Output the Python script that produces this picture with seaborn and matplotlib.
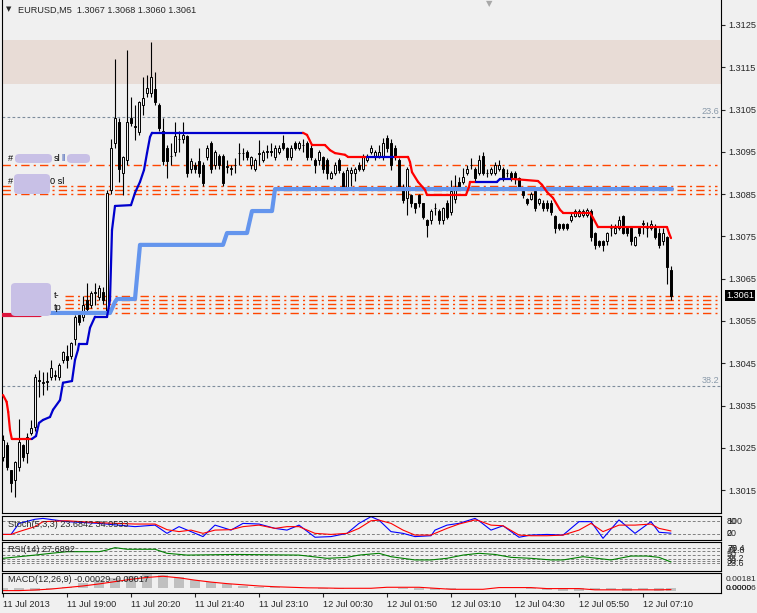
import numpy as np
import pandas as pd
import matplotlib
matplotlib.use("Agg")
import matplotlib.pyplot as plt
from matplotlib.patches import FancyBboxPatch
import seaborn as sns

# EURUSD M5 candles, values in pips above 1.3000 (bar 0 = first visible bar)
bar_open = [22.9, 25.7, 19.8, 17.4, 20.5, 25.7, 23.8, 28.5, 30.0, 41.0,
            40.3, 40.6, 41.8, 42.0, 41.8, 45.8, 46.8, 46.8, 50.8, 56.4,
            56.0, 60.0, 58.8, 61.6, 60.7, 61.9, 56.9, 86.0, 97.0, 102.0,
            90.0, 93.1, 103.0, 101.0, 99.7, 106.1, 108.9, 108.9, 109.9, 106.1,
            99.9, 95.9, 94.0, 95.0, 98.0, 98.0, 98.8, 91.0, 91.9, 92.8,
            91.9, 93.8, 97.1, 91.9, 94.0, 94.0, 91.5, 91.0, 91.9, 94.7,
            94.8, 95.0, 91.9, 91.0, 94.6, 93.1, 95.0, 95.1, 93.8, 95.0,
            97.1, 95.9, 93.8, 97.1, 95.9, 96.6, 97.1, 95.9, 93.1, 93.1,
            93.8, 93.1, 88.8, 90.0, 93.1, 90.0, 86.7, 90.0, 90.0, 91.9,
            91.0, 93.1, 95.0, 93.8, 93.8, 93.8, 98.3, 97.1, 95.9, 93.1,
            86.7, 84.0, 84.7, 82.8, 84.7, 82.8, 78.8, 78.8, 81.7, 81.0,
            78.8, 83.0, 80.8, 83.8, 87.9, 87.9, 90.0, 91.9, 91.0, 90.0,
            94.0, 90.0, 90.0, 90.0, 91.0, 91.0, 90.0, 90.0, 90.0, 88.8,
            85.7, 83.9, 83.9, 85.7, 82.9, 83.0, 83.0, 83.0, 79.8, 77.9,
            77.9, 77.9, 78.9, 79.8, 79.8, 80.0, 80.0, 81.0, 75.8, 73.9,
            73.9, 73.9, 77.0, 75.8, 77.0, 79.8, 77.0, 77.0, 73.0, 77.0,
            78.0, 77.0, 77.0, 77.0, 75.8, 73.9, 74.8, 67.0]
bar_high = [28.0, 26.5, 19.8, 22.0, 31.9, 26.0, 28.5, 31.6, 42.5, 43.5,
            43.0, 43.0, 45.8, 43.5, 45.0, 48.0, 49.4, 50.0, 56.5, 57.0,
            61.0, 64.0, 62.0, 64.0, 63.5, 63.0, 86.0, 98.1, 117.0, 103.0,
            94.0, 119.1, 108.0, 106.0, 107.0, 112.7, 113.2, 121.0, 113.9, 106.5,
            103.0, 96.5, 97.1, 102.0, 100.0, 102.0, 99.0, 93.5, 92.5, 95.9,
            92.5, 96.5, 97.5, 95.5, 94.5, 94.5, 93.0, 92.0, 93.5, 97.1,
            96.0, 95.5, 94.0, 93.5, 97.8, 95.5, 96.5, 97.0, 96.5, 96.5,
            99.0, 96.2, 96.5, 97.5, 97.5, 98.0, 97.5, 96.5, 93.5, 95.5,
            94.0, 93.5, 90.5, 92.5, 93.5, 90.5, 91.5, 91.5, 91.5, 92.5,
            94.5, 94.5, 96.5, 95.5, 96.5, 98.3, 99.0, 98.0, 96.5, 93.5,
            87.5, 91.5, 85.0, 83.0, 85.0, 83.0, 79.0, 81.5, 83.0, 81.5,
            82.0, 83.5, 88.3, 89.5, 89.0, 91.2, 92.0, 93.6, 91.5, 94.3,
            95.0, 91.0, 91.5, 92.5, 93.1, 91.5, 91.0, 90.5, 90.5, 89.0,
            86.0, 84.2, 85.5, 86.0, 84.2, 83.5, 83.5, 83.5, 80.0, 78.2,
            78.2, 78.2, 80.5, 81.5, 81.5, 81.5, 81.8, 81.5, 76.0, 74.2,
            74.2, 76.0, 78.0, 78.0, 79.8, 80.0, 77.5, 77.5, 75.2, 77.5,
            78.8, 78.5, 78.8, 78.0, 77.0, 77.0, 75.0, 68.0]
bar_low = [22.0, 19.8, 14.6, 13.4, 19.5, 22.0, 21.5, 28.0, 29.0, 37.0,
           37.5, 38.7, 41.0, 41.0, 41.0, 45.0, 43.9, 46.0, 49.4, 54.0,
           55.0, 57.0, 58.0, 58.8, 60.0, 59.0, 56.0, 85.0, 95.9, 87.9,
           84.8, 92.0, 101.0, 97.8, 99.0, 103.7, 108.0, 108.0, 106.0, 100.0,
           91.9, 88.8, 91.9, 94.0, 95.0, 97.0, 89.0, 90.0, 90.0, 89.0,
           87.0, 93.0, 90.0, 91.0, 91.0, 87.0, 90.0, 89.5, 90.0, 91.9,
           93.0, 93.0, 91.0, 90.5, 92.0, 92.5, 93.5, 94.0, 93.0, 94.5,
           95.5, 93.0, 93.0, 95.5, 95.5, 95.0, 93.0, 93.0, 90.0, 92.0,
           90.0, 88.5, 88.5, 89.5, 90.0, 86.0, 86.0, 87.0, 88.0, 90.5,
           90.5, 92.5, 94.5, 93.0, 93.5, 93.0, 95.0, 90.7, 93.0, 86.0,
           83.0, 80.0, 82.0, 80.5, 82.0, 79.0, 74.8, 78.0, 80.0, 78.0,
           78.0, 79.0, 80.0, 83.0, 86.0, 87.5, 89.5, 91.0, 88.0, 89.5,
           89.5, 89.0, 89.5, 89.5, 90.5, 88.0, 89.0, 88.0, 87.5, 86.0,
           84.0, 82.5, 83.5, 81.0, 82.5, 81.0, 81.0, 80.0, 75.8, 76.5,
           76.5, 76.5, 78.5, 79.5, 79.5, 79.5, 79.5, 74.0, 72.0, 72.5,
           71.6, 73.0, 75.0, 75.5, 76.5, 75.5, 75.0, 73.0, 72.8, 75.0,
           75.5, 74.8, 76.5, 74.5, 72.2, 73.0, 63.7, 60.0]
bar_close = [26.9, 20.5, 16.7, 21.7, 26.4, 22.9, 27.6, 29.7, 41.8, 40.8,
             40.6, 40.9, 43.9, 42.2, 44.6, 47.7, 45.8, 49.8, 56.0, 54.8,
             58.8, 57.9, 61.6, 61.8, 62.8, 60.0, 85.3, 95.9, 103.0, 91.0,
             93.8, 102.1, 101.8, 100.9, 106.8, 107.7, 110.1, 112.7, 106.8, 100.6,
             92.8, 92.8, 94.1, 98.8, 98.1, 99.0, 90.0, 92.8, 91.0, 90.0,
             87.6, 95.9, 91.0, 95.0, 91.9, 87.6, 91.6, 91.2, 92.0, 94.8,
             94.7, 93.8, 93.8, 93.1, 94.8, 95.0, 95.1, 95.0, 95.9, 95.9,
             95.9, 93.8, 95.9, 95.9, 97.1, 96.7, 93.8, 93.8, 91.9, 95.0,
             91.0, 90.0, 90.0, 91.9, 90.7, 86.7, 90.7, 90.7, 91.0, 91.0,
             93.8, 93.8, 95.9, 95.0, 95.0, 97.1, 95.9, 91.9, 93.8, 86.7,
             83.6, 91.0, 82.8, 81.6, 82.8, 79.5, 77.6, 81.0, 81.8, 78.8,
             81.7, 79.6, 85.7, 86.7, 86.7, 89.1, 91.0, 92.0, 88.8, 93.1,
             90.0, 90.1, 91.0, 91.9, 91.9, 88.8, 90.1, 88.8, 88.8, 86.7,
             84.8, 82.9, 85.1, 81.7, 83.9, 81.7, 81.7, 80.8, 77.0, 77.0,
             77.0, 77.0, 79.8, 81.0, 81.0, 81.0, 81.3, 74.9, 73.0, 73.0,
             73.0, 75.8, 77.1, 77.0, 78.8, 75.8, 75.8, 73.9, 74.8, 75.8,
             78.1, 77.1, 78.0, 74.8, 73.0, 75.8, 67.7, 61.0]

# trend line (bar position, pips, colour of the segment that starts there)
trail_i = [0, 0.9, 1.3, 1.75, 2.2, 7.2, 8.25, 9, 10, 11.75, 12.5, 14.25, 15, 17.25,
           18, 18.75, 19, 21, 21.75, 23, 26, 26.75, 27.25, 28, 32, 33, 34.25, 35.25,
           36, 36.75, 37.25, 75, 76, 77.25, 80.5, 81.75, 83, 85.5, 86.25, 91, 98,
           101.25, 101.75, 102.25, 103.75, 105.5, 106, 115.75, 116.5, 116.75, 118.25,
           123.5, 124.25, 127.25, 133.75, 134.75, 136, 137.5, 139.25, 140, 146.75,
           147.5, 148.75, 166, 166.5, 167]
trail_p = [37.5, 35.9, 33.5, 29.2, 27.1, 27.1, 27.8, 30.9, 31.6, 32.3, 34.0, 36.3, 40.4, 40.8,
           45.8, 48.2, 49.6, 49.6, 53.4, 56.0, 56.0, 60.0, 76.5, 82.2, 82.4, 85.3, 87.9, 90.7,
           94.7, 98.5, 99.5, 99.5, 99.0, 96.6, 96.6, 95.4, 94.7, 94.3, 93.8, 93.8, 93.8,
           93.8, 92.6, 90.2, 87.9, 86.0, 84.8, 84.8, 86.7, 87.9, 87.9,
           87.9, 88.6, 88.6, 88.1, 87.2, 85.5, 84.1, 81.3, 80.6, 80.6,
           79.4, 77.2, 77.2, 75.8, 74.6]
trail_dir = list("rrrrr" + "b" * 26 + "r" * 8 + "b" + "r" * 10 + "bbb" + "r" * 12 + "-")

# stepped support line
support_i = [9.25, 26.75, 28, 28.5, 33, 34.25, 55, 56, 61, 62.25, 67.25, 68, 167.25]
support_p = [56.9, 56.9, 59.5, 60.2, 60.2, 73.0, 73.0, 75.8, 75.8, 81.0, 81.0, 86.2, 86.2]
start_i = [-0.25, 9.25]
start_p = [56.4, 56.4]

# horizontal objects (pips)
order_levels = [91.9, 86.9, 86.0, 85.0, 60.9, 60.0, 59.0, 58.1, 56.9]
fib_levels = [103.2, 39.65]
fib_names = ["23.6", "38.2"]
zone_low, zone_high = 111.0, 121.4
price_ticks = [15, 25, 35, 45, 55, 65, 75, 85, 95, 105, 115, 125]

# indicators, read at sample bars
stoch_i = [0, 2, 4, 8, 10, 16, 24, 33, 38, 41, 44, 47, 50, 53, 57, 60, 64, 68, 71, 74,
           78, 82, 86, 89, 92, 94, 97, 100, 103, 107, 108, 111, 114, 118, 119, 122,
           125, 129, 132, 136, 140, 144, 147, 150, 154, 158, 162, 164, 167]
stoch_k = [18, 18, 69, 88, 92, 77, 69, 54, 61, 23, 54, 31, 8, 61, 38, 69, 66, 46, 38, 61,
           5, 8, 23, 69, 100, 84, 31, 23, 8, 12, 38, 61, 69, 92, 81, 38,
           58, 5, 15, 18, 15, 77, 77, 0, 85, 23, 77, 28, 23.7]
stoch_d = [18, 18, 31, 54, 77, 81, 72, 66, 66, 40, 31, 38, 23, 38, 40, 54, 61, 46, 54, 54,
           23, 18, 23, 46, 81, 84, 69, 38, 15, 15, 23, 46, 66, 85, 81, 61,
           58, 15, 12, 12, 15, 38, 69, 31, 61, 61, 66, 46, 34.1]
rsi_i = [0, 8, 12, 16, 24, 26, 28, 31, 38, 41, 46, 58, 74, 81, 86, 89, 94, 97, 100, 103,
         107, 111, 115, 119, 123, 127, 132, 137, 140, 145, 152, 157, 161, 164, 167]
rsi_v = [39, 49, 54.5, 59.5, 59.5, 64.7, 72, 67, 67, 54.5, 49, 51, 49, 39, 42, 49, 54.5, 44,
         39, 34, 34, 39, 49, 54.5, 51, 42, 39, 34, 34, 44, 34, 46, 46, 42, 27.7]
macd_i = list(range(0, 168, 4)) + [167]
macd_main = [-0.0004, -0.0004, -0.0003, -0.0001, 0.0002, 0.00064, 0.00107, 0.00137, 0.00159,
             0.00183, 0.00175, 0.0014, 0.00105, 0.0008, 0.0005, 0.00035, 0.0002, 0.00013,
             0.00008, 0.0, -0.0001, -0.0001, 0.0, 0.0001, 0.0001, -0.0001, -0.0002, -0.0002,
             -0.0001, 0.0, 0.0, 0.0001, 0.0001, -0.0001, -0.0002, -0.0003, -0.0003, -0.0002,
             -0.0002, -0.0003, -0.0002, -0.0003, -0.00029]
macd_signal = [-0.0003, -0.0003, -0.00022, -0.0001, 0.0001, 0.0003, 0.00056, 0.00086, 0.00116,
               0.0014, 0.00155, 0.00135, 0.00105, 0.0008, 0.0006, 0.00045, 0.0003, 0.0002,
               0.00013, 0.00006, 0.00004, 0.0, 0.0, 0.0, 0.00013, 0.00013, 0.00013, 0.0,
               -0.00013, -0.00013, -0.00013, 0.00009, 0.00009, 0.00009, -0.00004, -0.00004,
               -0.00004, -0.0002, -0.0002, -0.0002, -0.0002, -0.0002, -0.00017]

time_bars = [0, 16, 32, 48, 64, 80, 96, 112, 128, 144, 160]
time_labels = ["11 Jul 2013", "11 Jul 19:00", "11 Jul 20:20", "11 Jul 21:40", "11 Jul 23:10",
               "12 Jul 00:30", "12 Jul 01:50", "12 Jul 03:10", "12 Jul 04:30", "12 Jul 05:50",
               "12 Jul 07:10"]


def to_price(p):
    return 1.3 + np.asarray(p, dtype=float) / 1e4


BG = "#F0F0F0"
ORANGE = "#FF4500"
sns.set_style("white", {"axes.facecolor": BG, "figure.facecolor": BG})
plt.rcParams["font.family"] = ["Liberation Sans", "DejaVu Sans"]
plt.rcParams["font.size"] = 6.6

W, H = 757, 613
fig = plt.figure(figsize=(W / 100, H / 100), dpi=100, facecolor=BG)


def box(x0, y0, x1, y1):
    return [x0 / W, 1 - y1 / H, (x1 - x0) / W, (y1 - y0) / H]


def fx(x):
    return x / W


def fy(y):
    return 1 - y / H


ax = fig.add_axes(box(2, 0, 721, 513))
ax_st = fig.add_axes(box(2, 515.5, 721, 539.5))
ax_rsi = fig.add_axes(box(2, 541.7, 721, 570.7))
ax_macd = fig.add_axes(box(2, 572.7, 721, 592.7))

XLIM = (-0.25, 179.5)
for a in (ax, ax_st, ax_rsi, ax_macd):
    a.set_facecolor(BG)
    a.set_xlim(*XLIM)
    for s in a.spines.values():
        s.set_color("black")
        s.set_linewidth(0.8)
    a.tick_params(left=False, labelleft=False, bottom=False, labelbottom=False)
ax.spines["top"].set_visible(False)

# ---- main price panel ----
df = pd.DataFrame({"o": to_price(bar_open), "h": to_price(bar_high),
                   "l": to_price(bar_low), "c": to_price(bar_close)})
df["i"] = np.arange(len(df))

ax.axhspan(to_price(zone_low), to_price(zone_high), color="#E8DCD6", lw=0, zorder=0)
for lv, name in zip(fib_levels, fib_names):
    ax.axhline(to_price(lv), color="#7D8C9C", lw=0.8, dashes=(2.5, 2), zorder=1)
    ax.text(179.0, to_price(lv) + 0.00002, name, color="#8A9AAA", ha="right", va="bottom",
            fontsize=6.6)
for k, lv in enumerate(order_levels):
    xmin = 0.0 if k < 4 else 0.088
    ax.axhline(to_price(lv), xmin=xmin, xmax=0.995, color=ORANGE, lw=1.0,
               dashes=(6, 3, 1.5, 3), zorder=1)

up = df["c"] >= df["o"]
ax.vlines(df["i"], df["l"], df["h"], color="black", lw=0.8, zorder=3)
ax.bar(df["i"], (df["c"] - df["o"]).abs(), bottom=df[["o", "c"]].min(axis=1), width=0.55,
       color=np.where(up, BG, "black"), edgecolor="black", linewidth=0.7, zorder=4)

sns.lineplot(x=start_i, y=to_price(start_p), ax=ax, color="#DC143C", lw=3, zorder=5,
             estimator=None, sort=False)
sns.lineplot(x=support_i, y=to_price(support_p), ax=ax, color="#6495ED", lw=3, zorder=5,
             estimator=None, sort=False)
for k in range(len(trail_i) - 1):
    col = "#FF0000" if trail_dir[k] == "r" else "#0000CD"
    sns.lineplot(x=trail_i[k:k + 2], y=to_price(trail_p[k:k + 2]), ax=ax, color=col,
                 lw=1.6, zorder=6, estimator=None, sort=False)

ax.set_ylim(to_price(9.6), to_price(130.9))
ax.yaxis.tick_right()
ax.set_yticks(to_price(price_ticks))
ax.set_yticklabels([f"{v:.4f}" for v in to_price(price_ticks)])
ax.tick_params(right=True, labelright=True, length=3, width=0.8, pad=2, labelsize=6.6)

# masked object labels on the left
for (x0, y0, x1, y1) in [(15, 154, 52, 163), (67, 154, 90, 163), (14, 174, 50, 194),
                         (11, 283, 51, 316)]:
    fig.add_artist(FancyBboxPatch((fx(x0), fy(y1)), fx(x1 - x0), (y1 - y0) / H,
                                  boxstyle="round,pad=0,rounding_size=0.006",
                                  transform=fig.transFigure, fc="#C8C0E6", ec="none",
                                  zorder=8))
for (x, y, s) in [(8, 158, "#"), (54, 158, "sl"), (61, 158, "ll"), (8, 181, "#"),
                  (50, 181, "0 sl"), (54, 295, "t-"), (54, 308, "tp")]:
    fig.text(fx(x), fy(y), s, ha="left", va="center", fontsize=6.6, zorder=9,
             color="#3050B0" if s == "ll" else "black")

# header
fig.text(fx(6), fy(9), "\u25bc", fontsize=5, ha="left", va="center",
         family=["DejaVu Sans"])
fig.text(fx(18), fy(10), "EURUSD,M5  1.3067 1.3068 1.3060 1.3061", ha="left",
         va="center", fontsize=6.6)
fig.text(fx(489), fy(4), "\u25bc", fontsize=6, color="#A8A8A8", ha="center", va="center",
         family=["DejaVu Sans"])
fig.text(fx(740), fy(295.5), "1.3061", ha="center", va="center", color="white",
         fontsize=6.6, bbox=dict(boxstyle="square,pad=0.15", fc="black", ec="none"))

# ---- stochastic ----
for lv in (80, 20):
    ax_st.axhline(lv, color="#808080", lw=0.7, dashes=(3, 2))
sns.lineplot(x=stoch_i, y=stoch_k, ax=ax_st, color="#0000FF", lw=0.8, estimator=None,
             sort=False)
sns.lineplot(x=stoch_i, y=stoch_d, ax=ax_st, color="#FF0000", lw=0.8, estimator=None,
             sort=False)
ax_st.set_ylim(-5.4, 105.4)
ax_st.text(1.2, 62, "Stoch(5,3,3) 23.6842 34.0533", fontsize=6.6, va="center")
for s, y in [("80", 521.5), ("100", 521.5), ("20", 533.5), ("0", 533.5)]:
    fig.text(fx(727), fy(y), s, fontsize=6.4, va="center", ha="left")

# ---- RSI ----
for lv in (70, 61.8, 50, 38.2, 30, 23.6):
    ax_rsi.axhline(lv, color="#808080", lw=0.7, dashes=(3, 2))
sns.lineplot(x=rsi_i, y=rsi_v, ax=ax_rsi, color="#008000", lw=0.8, estimator=None,
             sort=False)
ax_rsi.set_ylim(0.7, 90.4)
ax_rsi.text(1.2, 66, "RSI(14) 27.6892", fontsize=6.6, va="center")
for s, v in [("70", 70), ("76.4", 70), ("61.8", 61.8), ("50", 50), ("38.2", 38.2),
             ("30", 30), ("23.6", 23.6)]:
    fig.text(fx(727), fy(548.3 + (70 - v) * 0.323), s, fontsize=6.4, va="center", ha="left")

# ---- MACD ----
ax_macd.bar(macd_i, macd_main, width=2.6, color="#C0C0C0", lw=0)
sns.lineplot(x=macd_i, y=macd_signal, ax=ax_macd, color="#FF0000", lw=0.8, estimator=None,
             sort=False)
ax_macd.set_ylim(-0.00057, 0.00201)
ax_macd.text(1.2, 0.0011, "MACD(12,26,9) -0.00029 -0.00017", fontsize=6.6, va="center")
for s, y in [("0.00181", 579.5), ("0.00006", 588), ("0.0000", 588.5)]:
    fig.text(fx(726), fy(y), s, fontsize=6.0, va="center", ha="left")

ax_macd.set_xticks(time_bars)
ax_macd.set_xticklabels(time_labels)
ax_macd.tick_params(bottom=True, labelbottom=True, length=3, width=0.8, pad=2,
                    labelsize=6.6)
for t in ax_macd.get_xticklabels():
    t.set_ha("left")

for a in (ax, ax_st, ax_rsi, ax_macd):
    a.set_xlabel("")
    a.set_ylabel("")
    leg = a.get_legend()
    if leg:
        leg.remove()
ax.set_xlim(*XLIM)

fig.savefig("out.png", dpi=100, facecolor=BG)
